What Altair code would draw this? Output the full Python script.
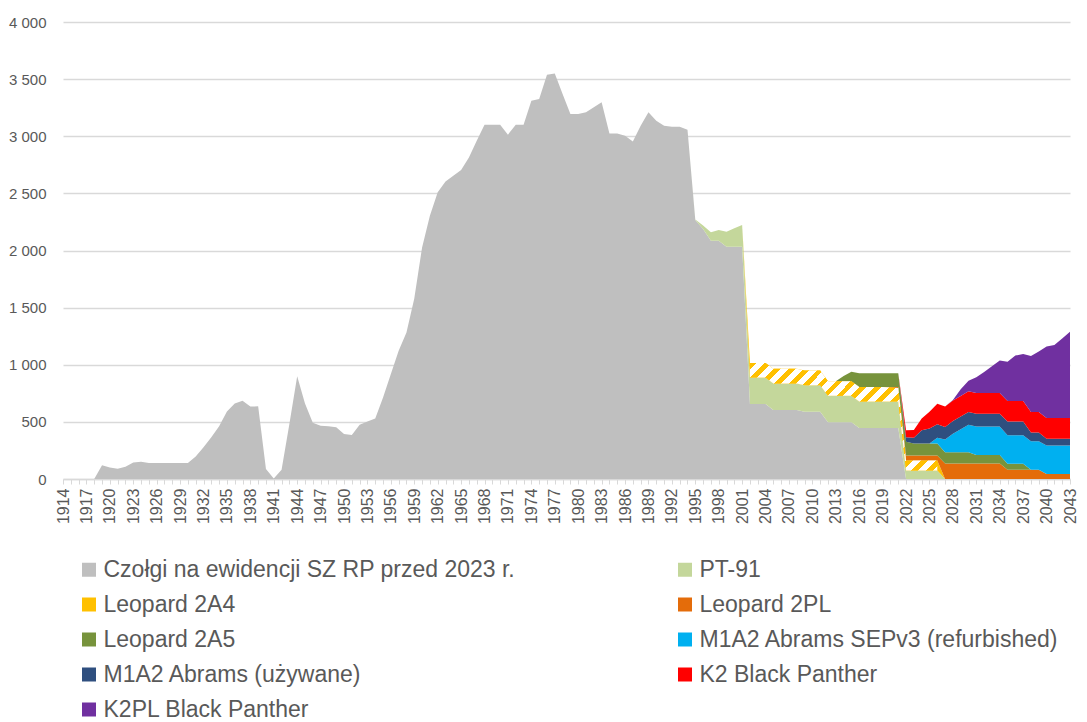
import altair as alt
import pandas as pd

# ---------------- data ----------------
years = list(range(1914, 2044))

series_names = [
    "Czołgi na ewidencji SZ RP przed 2023 r.",
    "PT-91",
    "Leopard 2A4",
    "Leopard 2PL",
    "Leopard 2A5",
    "M1A2 Abrams SEPv3 (refurbished)",
    "M1A2 Abrams (używane)",
    "K2 Black Panther",
    "K2PL Black Panther",
]
series_colors = ["#BFBFBF", "#C4D79B", "#FFC000", "#E46C0A", "#77933C",
                 "#00B0F0", "#2F4F7F", "#FF0000", "#7030A0"]

# each series: first year + yearly values (0 outside)
czolgi_start = 1914
czolgi = [0, 0, 0, 0, 0,
          120, 100, 90, 108, 145, 150, 140, 140, 140, 140, 140, 140,
          196, 278, 365, 461, 590, 660, 686, 634, 636, 88, 5, 80, 482,
          900, 660, 493, 466, 461, 452, 394, 385, 475, 504, 530, 714,
          919, 1123, 1283, 1580, 2027, 2305, 2509, 2605, 2655, 2705, 2815, 2961,
          3101, 3101, 3101, 3014, 3101, 3101, 3311, 3326, 3539, 3550, 3370, 3195,
          3195, 3209, 3253, 3297, 3025, 3025, 3005, 2955, 3092, 3209, 3136, 3092,
          3084, 3084, 3057, 2267, 2188, 2086, 2086, 2033, 2033, 2033,
          656, 656, 656, 604, 604, 604, 604, 589, 589, 589,
          496, 496, 496, 496, 446, 446, 446, 446, 446, 446,
          0]

pt91_start = 1995
pt91 = [5, 30, 73, 93, 132, 161, 190,
        232, 232, 232, 232, 232, 232, 232, 232, 232, 232,
        232, 232, 232, 232, 232, 232, 232, 232, 232, 232,
        74, 74, 74, 74, 74]

leo2a4_start = 2002
leo2a4 = [128, 128, 128, 128, 128, 128, 128, 128, 128, 128,
          128, 128, 128, 128, 128, 128, 128, 128, 122, 118,
          88, 88, 88, 88, 88]

leo2pl_start = 2020
leo2pl = [6, 10, 44, 44, 44, 44, 44,
          135, 135, 135, 135, 135, 135, 135, 135,
          80, 80, 80, 80, 80, 44, 44, 44, 44]

leo2a5_start = 2014
leo2a5 = [45, 82, 120, 120, 120, 120, 120, 120, 120,
          105, 105, 105, 105, 100, 100, 100, 100,
          75, 75, 75, 75, 53, 53, 53]

sepv3_start = 2026
sepv3 = [50, 110, 160, 200, 240,
         250, 250, 250, 250, 250, 250, 250, 250, 250, 250, 250, 250, 250]

m1a2_used_start = 2022
m1a2_used = [40, 50, 116, 130, 118, 110, 112, 112, 112, 112, 112,
             112, 112, 120, 120, 120, 77, 77, 59, 59, 59, 59]

k2_start = 2022
k2 = [60, 68, 103, 147, 180, 180, 180, 180, 180, 180, 180,
      180, 180, 180, 180, 180, 180, 180, 180, 180, 180, 180]

k2pl_start = 2028
k2pl = [5, 59, 94, 138, 185, 235, 285, 344, 397, 412,
        489, 530, 627, 639, 697, 756]

y_ticks = [0, 500, 1000, 1500, 2000, 2500, 3000, 3500, 4000]

# ---------------- table ----------------
series_data = [
    (czolgi_start, czolgi), (pt91_start, pt91), (leo2a4_start, leo2a4),
    (leo2pl_start, leo2pl), (leo2a5_start, leo2a5), (sepv3_start, sepv3),
    (m1a2_used_start, m1a2_used), (k2_start, k2), (k2pl_start, k2pl),
]
rows = []
for idx, (name, (start, vals)) in enumerate(zip(series_names, series_data)):
    for yr in years:
        k = yr - start
        v = vals[k] if 0 <= k < len(vals) else 0
        rows.append({"year": yr, "series": name, "order": idx, "value": v})
df = pd.DataFrame(rows)

# ---------------- styling ----------------
FONT = "Liberation Sans, Arial, sans-serif"
GRID = "#D9D9D9"
TXT = "#595959"

# diagonal hatch for Leopard 2A4 emulated with a hard-stop linear gradient
n_stripes = 20
stops = []
for k in range(n_stripes):
    a = k / n_stripes
    b = (k + 0.45) / n_stripes
    c = (k + 1) / n_stripes
    stops += [alt.GradientStop(color="#FFC000", offset=a),
              alt.GradientStop(color="#FFC000", offset=b),
              alt.GradientStop(color="#FFFFFF", offset=b),
              alt.GradientStop(color="#FFFFFF", offset=c)]
hatch_fill = alt.LinearGradient(gradient="linear", stops=stops,
                                x1=0, y1=0, x2=1.2, y2=0.68)

base = alt.Chart(df).transform_stack(
    stack="value", groupby=["year"], as_=["v0", "v1"],
    sort=[alt.SortField("order", order="ascending")],
)

x_axis = alt.Axis(
    values=years,
    labelExpr="(datum.value - 1914) % 3 == 0 ? '' + datum.value : ''",
    labelAngle=270, labelFontSize=16, labelColor=TXT, labelFont=FONT,
    labelPadding=4, tickSize=5, tickColor=GRID, tickWidth=1,
    domainColor=GRID, domainWidth=1.5, grid=False, title=None,
    labelFlush=False, labelOverlap=False,
)
y_axis = alt.Axis(
    values=y_ticks,
    labelExpr="replace(format(datum.value, ','), ',', ' ')",
    labelFontSize=15, labelColor=TXT, labelFont=FONT, labelPadding=17,
    ticks=False, tickSize=0, domain=False, gridColor=GRID, gridWidth=1.3,
    title=None,
)
x_scale = alt.Scale(domain=[1914, 2043], nice=False, zero=False)
y_scale = alt.Scale(domain=[0, 4000], nice=False)

areas = base.mark_area(interpolate="linear", opacity=1).encode(
    x=alt.X("year:Q", scale=x_scale, axis=x_axis),
    y=alt.Y("v1:Q", scale=y_scale, axis=y_axis),
    y2="v0:Q",
    color=alt.Color(
        "series:N",
        scale=alt.Scale(domain=series_names, range=series_colors),
        legend=alt.Legend(
            title=None, orient="none", legendX=14.5, legendY=536,
            direction="horizontal", columns=2, columnPadding=158, rowPadding=11,
            symbolType="square", symbolSize=196, symbolStrokeWidth=0,
            labelFontSize=23, labelFont=FONT, labelColor=TXT,
            labelLimit=0, labelOffset=3, padding=0,
        ),
    ),
)

hatch = base.transform_filter(
    "datum.series === 'Leopard 2A4' && datum.year >= 2002 && datum.year <= 2026"
).mark_area(interpolate="linear", fill=hatch_fill, opacity=1).encode(
    x=alt.X("year:Q", scale=x_scale, axis=x_axis),
    y=alt.Y("v1:Q", scale=y_scale, axis=y_axis),
    y2="v0:Q",
)

chart = alt.layer(areas, hatch).properties(
    width=1007, height=457,
    autosize=alt.AutoSizeParams(type="none"),
    padding={"left": 55, "top": 14, "right": 9, "bottom": 243},
).configure_view(strokeWidth=0).configure_axisX(labelFontSize=16)

chart.save("out.html", embed_options={"renderer": "svg", "actions": False})
